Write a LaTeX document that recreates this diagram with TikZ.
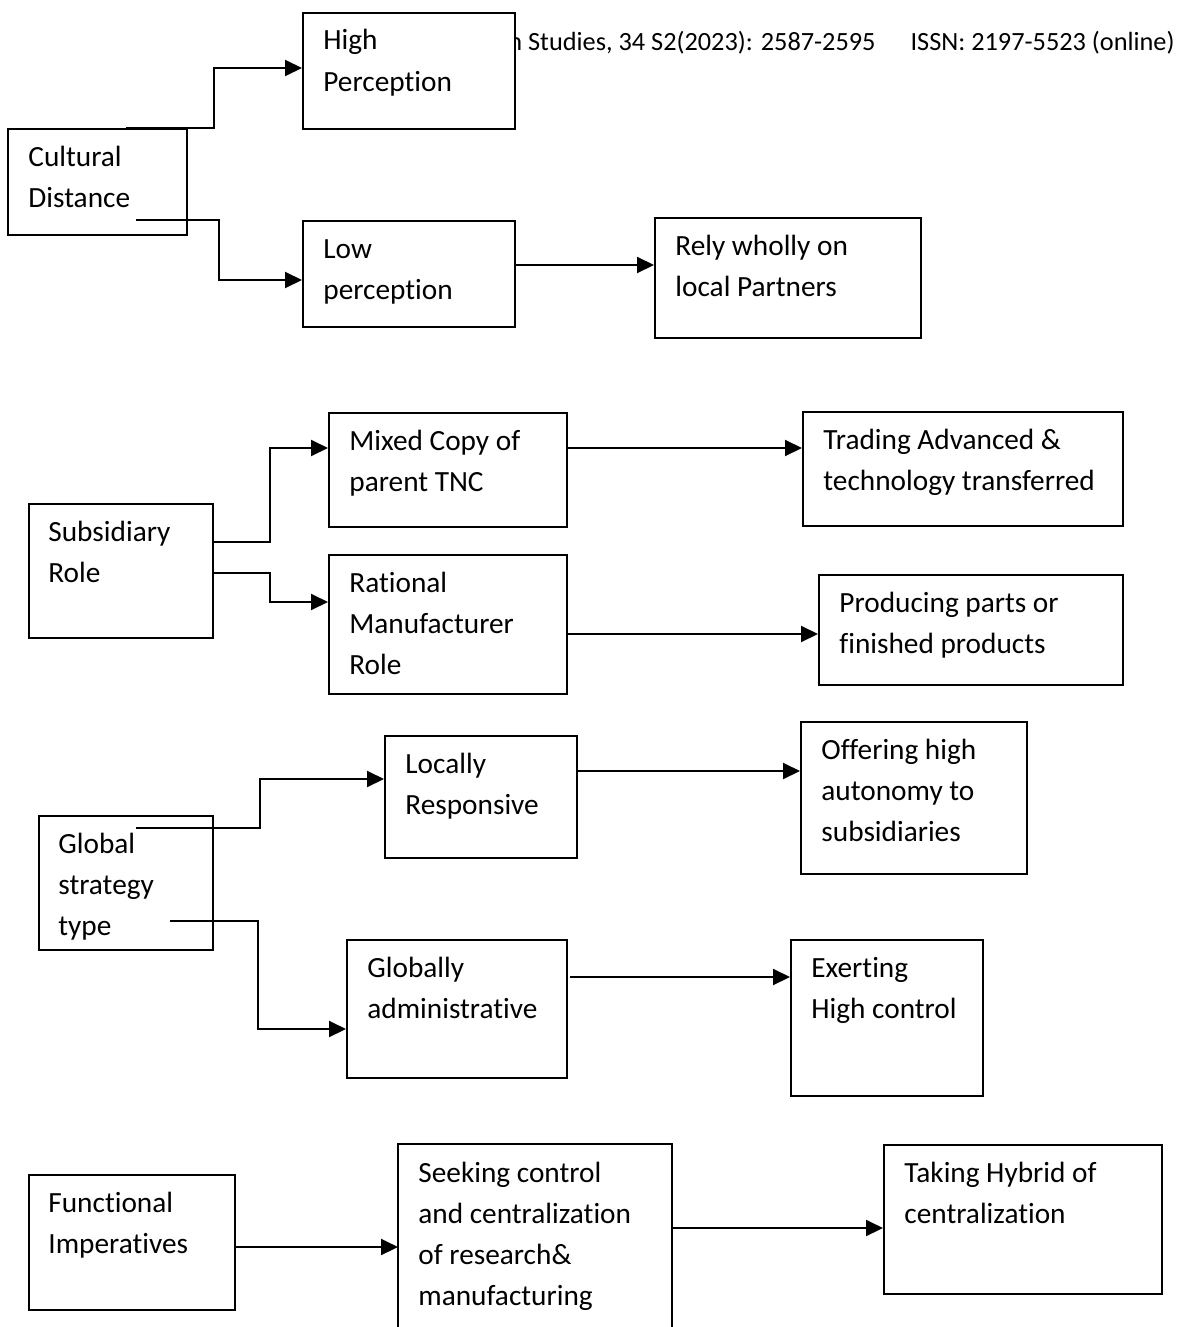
\documentclass[tikz,border=0pt]{standalone}
\usepackage{fontspec}
\setmainfont{Carlito}[Ligatures={NoCommon}]
\usetikzlibrary{arrows.meta}
\newcommand\mylines[1]{\begin{tabular}[t]{@{}l@{}}#1\end{tabular}}
\begin{document}
\begin{tikzpicture}[x=0.5pt,y=-0.5pt,
  box/.style={draw, line width=1pt, fill=white, inner sep=0pt, anchor=north west},
  openbox/.style={draw=none, inner sep=0pt, anchor=north west},
  txt/.style={anchor=base west, inner sep=0pt, font=\fontsize{14.65pt}{20.6pt}\selectfont},
  hdr/.style={anchor=base west, inner sep=0pt, font=\fontsize{13.15pt}{16pt}\selectfont},
  conn/.style={line width=1pt, -{Triangle[length=8.5pt,width=8pt]}}]
\useasboundingbox (0,0) rectangle (1178,1327);

% header line (partly hidden behind the High Perception box)
\node[hdr] (hdr) at (508,51) {n Studies, 34 S2(2023): 2587-2595\hspace{17.5pt}ISSN: 2197-5523 (online)};

% ---------- section 1 ----------
\node[box, minimum width=179*0.5pt, minimum height=106*0.5pt] (cd) at (7,128) {};
\node[txt] (cdt) at ([shift={(21,38)}]cd.north west) {\mylines{Cultural\\Distance}};
\node[box, minimum width=212*0.5pt, minimum height=116*0.5pt] (hp) at (302,12) {};
\node[txt] (hpt) at ([shift={(21,38)}]hp.north west) {\mylines{High\\Perception}};
\node[box, minimum width=212*0.5pt, minimum height=106*0.5pt] (lp) at (302,220) {};
\node[txt] (lpt) at ([shift={(21,38)}]lp.north west) {\mylines{Low\\perception}};
\node[box, minimum width=266*0.5pt, minimum height=120*0.5pt] (rw) at (654,217) {};
\node[txt] (rwt) at ([shift={(21,38)}]rw.north west) {\mylines{Rely wholly on\\local Partners}};

\coordinate (cdo1) at (126,128);
\coordinate (cdo2) at (136,220);
\draw[conn] (cdo1) -- (214,0 |- cdo1) |- (hp.west |- 0,68);
\draw[conn] (cdo2) -- (219,0 |- cdo2) |- (lp.west |- 0,280);
\draw[conn] (lp.east |- 0,265) -- (rw.west |- 0,265);

% ---------- section 2 ----------
\node[box, minimum width=184*0.5pt, minimum height=134*0.5pt] (sr) at (28,503) {};
\node[txt] (srt) at ([shift={(20,38)}]sr.north west) {\mylines{Subsidiary\\Role}};
\node[box, minimum width=238*0.5pt, minimum height=114*0.5pt] (mc) at (328,412) {};
\node[txt] (mct) at ([shift={(21,38)}]mc.north west) {\mylines{Mixed Copy of\\parent TNC}};
\node[box, minimum width=238*0.5pt, minimum height=139*0.5pt] (rm) at (328,554) {};
\node[txt] (rmt) at ([shift={(21,38)}]rm.north west) {\mylines{Rational\\Manufacturer\\Role}};
\node[box, minimum width=320*0.5pt, minimum height=114*0.5pt] (ta) at (802,411) {};
\node[txt] (tat) at ([shift={(21,38)}]ta.north west) {\mylines{Trading Advanced \&\\technology transferred}};
\node[box, minimum width=304*0.5pt, minimum height=110*0.5pt] (pp) at (818,574) {};
\node[txt] (ppt) at ([shift={(21,38)}]pp.north west) {\mylines{Producing parts or\\finished products}};

\draw[conn] (sr.east |- 0,542) -- (270,542) |- (mc.west |- 0,448);
\draw[conn] (sr.east |- 0,573) -- (270,573) |- (rm.west |- 0,602);
\draw[conn] (mc.east |- 0,448) -- (ta.west |- 0,448);
\draw[conn] (rm.east |- 0,634) -- (pp.west |- 0,634);

% ---------- section 3 ----------
\node[box, minimum width=174*0.5pt, minimum height=134*0.5pt] (gs) at (38,815) {};
\node[txt] (gst) at ([shift={(20,38)}]gs.north west) {\mylines{Global\\strategy\\type}};
\node[box, minimum width=192*0.5pt, minimum height=122*0.5pt] (lr) at (384,735) {};
\node[txt] (lrt) at ([shift={(21,38)}]lr.north west) {\mylines{Locally\\Responsive}};
\node[box, minimum width=220*0.5pt, minimum height=138*0.5pt] (ga) at (346,939) {};
\node[txt] (gat) at ([shift={(21,38)}]ga.north west) {\mylines{Globally\\administrative}};
\node[box, minimum width=226*0.5pt, minimum height=152*0.5pt] (oh) at (800,721) {};
\node[txt] (oht) at ([shift={(21,38)}]oh.north west) {\mylines{Offering high\\autonomy to\\subsidiaries}};
\node[box, minimum width=192*0.5pt, minimum height=156*0.5pt] (eh) at (790,939) {};
\node[txt] (eht) at ([shift={(21,38)}]eh.north west) {\mylines{Exerting\\High control}};

\coordinate (gso1) at (136,828);
\coordinate (gso2) at (170,921);
\draw[conn] (gso1) -- (260,0 |- gso1) |- (lr.west |- 0,779);
\draw[conn] (gso2) -- (258,0 |- gso2) |- (ga.west |- 0,1029);
\draw[conn] (lr.east |- 0,771) -- (oh.west |- 0,771);
\coordinate (gao) at (570,977);
\draw[conn] (gao) -- (eh.west |- gao);

% ---------- section 4 ----------
\node[box, minimum width=206*0.5pt, minimum height=135*0.5pt] (fi) at (28,1174) {};
\node[txt] (fit) at ([shift={(20,38)}]fi.north west) {\mylines{Functional\\Imperatives}};
\node[openbox, minimum width=273*0.5pt, minimum height=183*0.5pt] (sc) at (398,1144) {};
\draw[line width=1pt] (sc.south west) |- (sc.north east) -- (sc.south east);
\node[txt] (sct) at ([shift={(20,38)}]sc.north west) {\mylines{Seeking control\\and centralization\\of research\&\\manufacturing}};
\node[box, minimum width=278*0.5pt, minimum height=149*0.5pt] (th) at (883,1144) {};
\node[txt] (tht) at ([shift={(21,38)}]th.north west) {\mylines{Taking Hybrid of\\centralization}};

\draw[conn] (fi.east |- 0,1247) -- (sc.west |- 0,1247);
\draw[conn] (sc.east |- 0,1228) -- (th.west |- 0,1228);
\end{tikzpicture}
\end{document}
